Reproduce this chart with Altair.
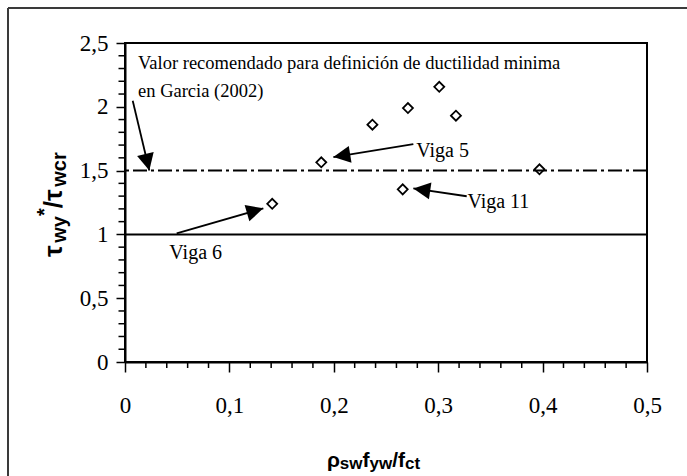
import math
import altair as alt
import pandas as pd

# ---------------- data ----------------
rho_values = [0.141, 0.188, 0.237, 0.271, 0.301, 0.317, 0.266, 0.397]
tau_ratio = [1.24, 1.565, 1.86, 1.99, 2.157, 1.93, 1.353, 1.51]

ref_solid = [1.0]
ref_dashdot = [1.5]

x_ticks = [0, 0.1, 0.2, 0.3, 0.4, 0.5]
y_ticks = [0, 0.5, 1, 1.5, 2, 2.5]
x_minor = [0.02, 0.04, 0.06, 0.08, 0.12, 0.14, 0.16, 0.18, 0.22, 0.24, 0.26, 0.28,
           0.32, 0.34, 0.36, 0.38, 0.42, 0.44, 0.46, 0.48]
y_minor = [0.1, 0.2, 0.3, 0.4, 0.6, 0.7, 0.8, 0.9, 1.1, 1.2, 1.3, 1.4,
           1.6, 1.7, 1.8, 1.9, 2.1, 2.2, 2.3, 2.4]

note_lines = ["Valor recomendado para definición de ductilidad minima", "en Garcia (2002)"]
note_x = [0.0125, 0.0125]
note_y = [2.294, 2.079]

viga_labels = ["Viga 5", "Viga 11", "Viga 6"]
viga_x = [0.279, 0.328, 0.0425]
viga_y = [1.609, 1.204, 0.805]

arrow_x1 = [0.0074, 0.2762, 0.3273, 0.0495]   # tails
arrow_y1 = [2.048, 1.708, 1.299, 1.008]
arrow_x2 = [0.0233, 0.1996, 0.2762, 0.1325]   # tips
arrow_y2 = [1.501, 1.606, 1.360, 1.204]

y_title_parts = ["τ", "wy", "*", "/", "τ", "wcr"]
y_title_kind = ["main", "sub", "sup", "main", "main", "sub"]
x_title_parts = ["ρ", "sw", "f", "yw", "/f", "ct"]
x_title_kind = ["main", "sub", "main", "sub", "main", "sub"]

# ---------------- layout ----------------
W, H = 522, 319
X_MAX, Y_MAX = 0.5, 2.5
sx, sy = W / X_MAX, H / Y_MAX
PAD = {"left": 125, "top": 43, "right": 687 - 125 - W, "bottom": 476 - 43 - H}

xs = alt.Scale(domain=[0, X_MAX], nice=False, zero=False)
ys = alt.Scale(domain=[0, Y_MAX], nice=False, zero=False)

SERIF = "Liberation Serif, Times New Roman, serif"
SANS = "Liberation Sans, Arial, sans-serif"

# Arial-bold-compatible advance widths (em)
EM = {"τ": 0.55, "ρ": 0.61, "w": 0.778, "y": 0.556, "*": 0.389, "/": 0.278,
      "c": 0.556, "r": 0.389, "s": 0.556, "f": 0.333, "t": 0.333}

one = pd.DataFrame({"k": [0]})


def title_layers(parts, kinds, main, sub, shifts, start_x, start_y, vertical):
    layers, cum = [], 0.0
    for p, k in zip(parts, kinds):
        fs = main if k == "main" else sub
        if vertical:
            px, py = start_x + shifts[k], start_y - cum
            mk = dict(angle=270)
        else:
            px, py = start_x + cum, start_y + shifts[k]
            mk = {}
        layers.append(alt.Chart(one).mark_text(
            align="left", baseline="alphabetic", font=SANS, fontWeight="bold",
            color="black", fontSize=fs, **mk).encode(
            x=alt.value(px), y=alt.value(py), text=alt.value(p)))
        cum += sum(EM[ch] for ch in p) * fs
    return layers


lab_expr = "replace(toString(datum.value), '.', ',')"
x_axis = alt.Axis(values=x_ticks, labelExpr=lab_expr,
                  title=None, grid=False, tickSize=10, tickWidth=1.5, tickColor="black",
                  domainColor="black", domainWidth=2, labelFont=SERIF, labelFontSize=23,
                  labelColor="black", labelPadding=22, labelFlush=False)
y_axis = alt.Axis(values=y_ticks, labelExpr=lab_expr,
                  title=None, grid=False, tickSize=9, tickWidth=1.5, tickColor="black",
                  domainColor="black", domainWidth=2, labelFont=SERIF, labelFontSize=23,
                  labelColor="black", labelPadding=8, labelFlush=False)

# ---------------- layers ----------------
pts = alt.Chart(pd.DataFrame({"x": rho_values, "y": tau_ratio})).mark_point(
    shape="diamond", size=100, filled=False, fill="white", fillOpacity=1, stroke="black",
    strokeWidth=1.8, opacity=1).encode(
    x=alt.X("x:Q", scale=xs, axis=x_axis), y=alt.Y("y:Q", scale=ys, axis=y_axis))

frame_left = alt.Chart(one).mark_rule(color="#3a3a3a", strokeWidth=2).encode(
    x=alt.value(8 - PAD["left"]), y=alt.value(8 - PAD["top"]), y2=alt.value(476 - PAD["top"]))
frame_top = alt.Chart(one).mark_rule(color="#3a3a3a", strokeWidth=2).encode(
    y=alt.value(8 - PAD["top"]), x=alt.value(8 - PAD["left"]), x2=alt.value(687 - PAD["left"]))

box = alt.Chart(one).mark_rect(fill=None, stroke="black", strokeWidth=2).encode(
    x=alt.value(0), x2=alt.value(W), y=alt.value(0), y2=alt.value(H))

solid = alt.Chart(pd.DataFrame({"v": ref_solid})).mark_rule(color="black", strokeWidth=2).encode(
    y=alt.Y("v:Q", scale=ys))
dashdot = alt.Chart(pd.DataFrame({"v": ref_dashdot})).mark_rule(
    color="black", strokeWidth=2, strokeDash=[14, 4, 3, 4]).encode(
    y=alt.Y("v:Q", scale=ys))

xmin_layer = alt.Chart(pd.DataFrame({"v": x_minor})).mark_rule(color="black", strokeWidth=1.5).encode(
    x=alt.X("v:Q", scale=xs), y=alt.value(H), y2=alt.value(H + 6))
ymin_layer = alt.Chart(pd.DataFrame({"v": y_minor})).mark_rule(color="black", strokeWidth=1.5).encode(
    y=alt.Y("v:Q", scale=ys), x=alt.value(-6.5), x2=alt.value(0))

arr = pd.DataFrame({"x1": arrow_x1, "y1": arrow_y1, "x2": arrow_x2, "y2": arrow_y2})
arr["ang"] = [
    math.degrees(math.atan2((b - a) * sx, (d - c) * sy)) % 360
    for a, b, c, d in zip(arrow_x1, arrow_x2, arrow_y1, arrow_y2)
]
shafts = alt.Chart(arr).mark_rule(color="black", strokeWidth=1.8).encode(
    x=alt.X("x1:Q", scale=xs), y=alt.Y("y1:Q", scale=ys),
    x2="x2:Q", y2="y2:Q")
heads = alt.Chart(arr).mark_point(shape="M0,0L-0.5,1L0.5,1Z", filled=True, color="black",
                                  size=1156, opacity=1).encode(
    x=alt.X("x2:Q", scale=xs), y=alt.Y("y2:Q", scale=ys),
    angle=alt.Angle("ang:Q", scale=None))

notes = alt.Chart(pd.DataFrame({"t": note_lines, "x": note_x, "y": note_y})).mark_text(
    align="left", baseline="alphabetic", font=SERIF, fontSize=18.5, color="black").encode(
    x=alt.X("x:Q", scale=xs), y=alt.Y("y:Q", scale=ys), text="t:N")

vigas = alt.Chart(pd.DataFrame({"t": viga_labels, "x": viga_x, "y": viga_y})).mark_text(
    align="left", baseline="alphabetic", font=SERIF, fontSize=20, color="black").encode(
    x=alt.X("x:Q", scale=xs), y=alt.Y("y:Q", scale=ys), text="t:N")

ytitle = title_layers(y_title_parts, y_title_kind, 26, 20, {"main": 0, "sub": 4, "sup": -11},
                      62 - PAD["left"], 257 - PAD["top"], True)
xtitle = title_layers(x_title_parts, x_title_kind, 21, 17, {"main": 0, "sub": 2, "sup": -8},
                      327 - PAD["left"], 467 - PAD["top"], False)

chart = alt.layer(
    pts, frame_left, frame_top, solid, dashdot, xmin_layer, ymin_layer,
    shafts, heads, box, notes, vigas, *ytitle, *xtitle
).properties(
    width=W, height=H, padding=PAD, autosize=alt.AutoSizeParams(type="none"),
    background="white"
).configure_view(stroke="black", strokeWidth=2)

chart.save("out.html", embed_options={"renderer": "svg", "actions": False})
